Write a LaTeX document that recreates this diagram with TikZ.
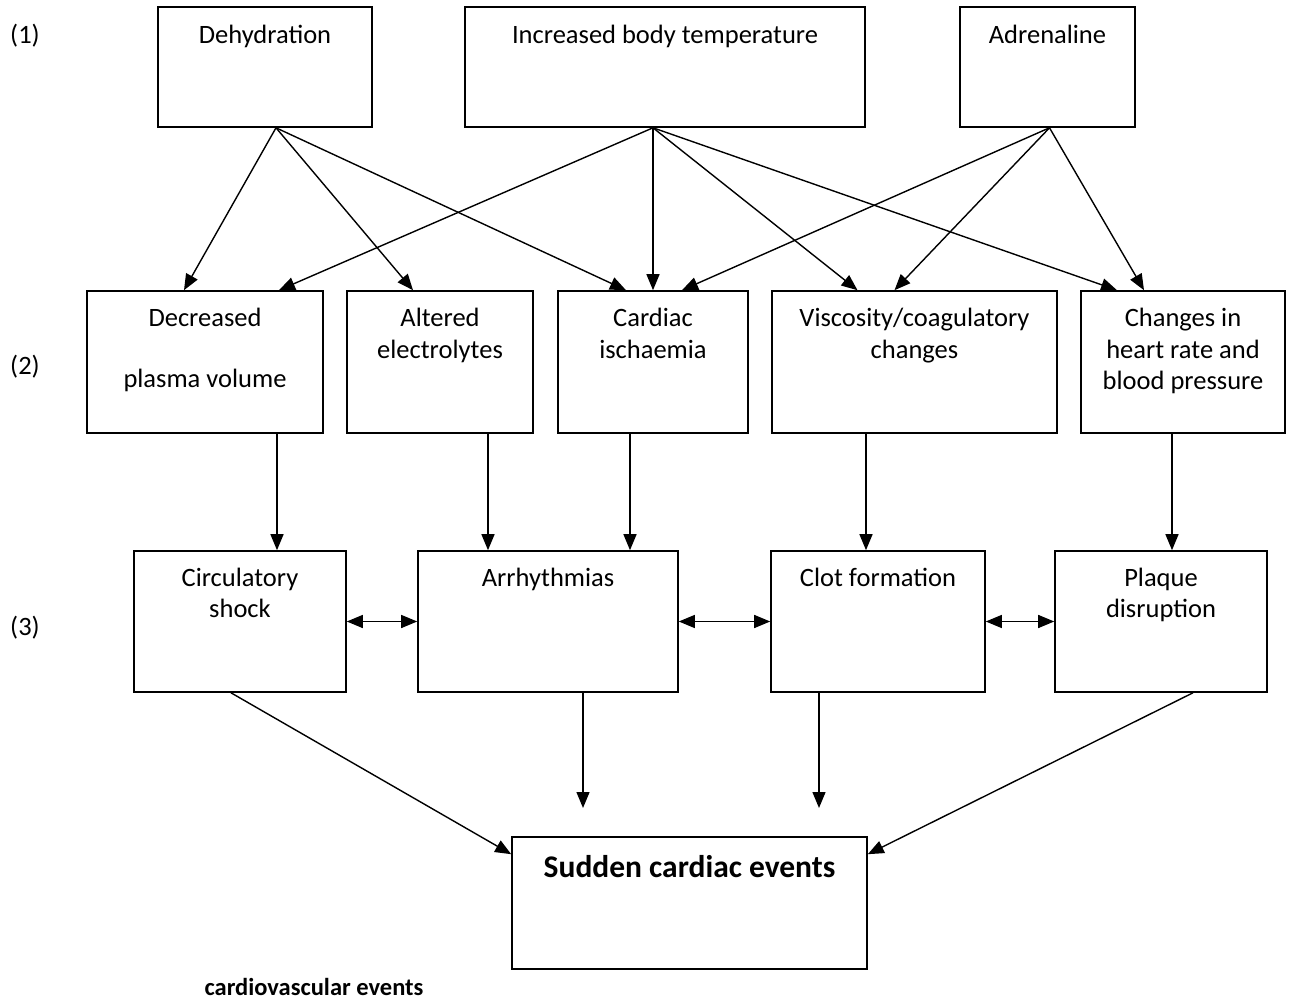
\documentclass[tikz,border=0pt]{standalone}
\usepackage{fontspec}
\setmainfont{Carlito}
\usetikzlibrary{arrows.meta}
% centred lines whose baseline is that of the first line
\newcommand\boxlines[1]{\begin{tabular}[t]{@{}c@{}}#1\end{tabular}}
\begin{document}
\begin{tikzpicture}[x=1pt,y=-1pt,
  box/.style={draw, line width=1.6pt, inner sep=0pt, rectangle},
  txt/.style={anchor=base, inner sep=0pt, font=\fontsize{26.5}{31.5}\selectfont},
  arr/.style={line width=1.4pt, -{Triangle[length=16pt,width=13pt]}},
  twoway/.style={line width=1.4pt, {Triangle[length=16pt,width=13pt]}-{Triangle[length=16pt,width=13pt]}}]
\useasboundingbox (0,0) rectangle (1294,1000);

% level labels
\node[txt] (lab1) at (25,44) {(1)};
\node[txt] (lab2) at (25,375) {(2)};
\node[txt] (lab3) at (25,635) {(3)};

% level 1
\node[box, minimum width=214pt, minimum height=120pt] (dehyd) at (265,67) {};
\node[box, minimum width=400pt, minimum height=120pt] (ibt) at (665,67) {};
\node[box, minimum width=175pt, minimum height=120pt] (adren) at (1047.5,67) {};
\node[txt] (dehydT) at (265,44) {Dehydration};
\node[txt] (ibtT) at (665,44) {Increased body temperature};
\node[txt] (adrenT) at (1047.5,44) {Adrenaline};

% level 2
\node[box, minimum width=236pt, minimum height=142pt] (decr) at (205,362) {};
\node[box, minimum width=186pt, minimum height=142pt] (elec) at (440,362) {};
\node[box, minimum width=190pt, minimum height=142pt] (isch) at (653,362) {};
\node[box, minimum width=285pt, minimum height=142pt] (visc) at (914.5,362) {};
\node[box, minimum width=204pt, minimum height=142pt] (hrbp) at (1183,362) {};
\node[txt] (decrT) at (205,327) {\boxlines{Decreased\\[29.5pt] plasma volume}};
\node[txt] (elecT) at (440,327) {\boxlines{Altered\\ electrolytes}};
\node[txt] (ischT) at (653,327) {\boxlines{Cardiac\\ ischaemia}};
\node[txt] (viscT) at (914.5,327) {\boxlines{Viscosity/coagulatory\\ changes}};
\node[txt] (hrbpT) at (1183,327) {\boxlines{Changes in\\ heart rate and\\ blood pressure}};

% level 3
\node[box, minimum width=212pt, minimum height=141pt] (circ) at (240,621.5) {};
\node[box, minimum width=260pt, minimum height=141pt] (arrh) at (548,621.5) {};
\node[box, minimum width=214pt, minimum height=141pt] (clot) at (878,621.5) {};
\node[box, minimum width=212pt, minimum height=141pt] (plaq) at (1161,621.5) {};
\node[txt] (circT) at (240,586) {\boxlines{Circulatory\\ shock}};
\node[txt] (arrhT) at (548,586) {Arrhythmias};
\node[txt] (clotT) at (878,586) {Clot formation};
\node[txt] (plaqT) at (1161,586) {\boxlines{Plaque\\ disruption}};

% outcome
\node[box, minimum width=355pt, minimum height=132pt] (sudden) at (689.5,903) {};
\node[txt, font=\bfseries\fontsize{31.5}{36}\selectfont] (suddenT) at (689.5,877) {Sudden cardiac events};
\node[txt, font=\bfseries\fontsize{24.5}{28}\selectfont] (cve) at (314,995) {cardiovascular events};

% level 1 -> level 2
\draw[arr] ([xshift=11]dehyd.south) -- ([xshift=-21]decr.north);
\draw[arr] ([xshift=11]dehyd.south) -- ([xshift=-27]elec.north);
\draw[arr] ([xshift=11]dehyd.south) -- ([xshift=-27]isch.north);
\draw[arr] ([xshift=-12]ibt.south) -- ([xshift=74]decr.north);
\draw[arr] ([xshift=-12]ibt.south) -- (isch.north);
\draw[arr] ([xshift=-12]ibt.south) -- ([xshift=-57]visc.north);
\draw[arr] ([xshift=-12]ibt.south) -- ([xshift=-66]hrbp.north);
\draw[arr] ([xshift=2]adren.south) -- ([xshift=29]isch.north);
\draw[arr] ([xshift=2]adren.south) -- ([xshift=-20]visc.north);
\draw[arr] ([xshift=2]adren.south) -- ([xshift=-39]hrbp.north);

% level 2 -> level 3
\draw[arr] (decr.south -| 277,0) -- (circ.north -| 277,0);
\draw[arr] (elec.south -| 488,0) -- (arrh.north -| 488,0);
\draw[arr] (isch.south -| 630,0) -- (arrh.north -| 630,0);
\draw[arr] (visc.south -| 866,0) -- (clot.north -| 866,0);
\draw[arr] (hrbp.south -| 1172,0) -- (plaq.north -| 1172,0);

% interactions within level 3
\draw[twoway] (circ.east) -- (arrh.west);
\draw[twoway] (arrh.east) -- (clot.west);
\draw[twoway] (clot.east) -- (plaq.west);

% level 3 -> outcome
\coordinate (arrhEnd) at (583,808);
\coordinate (clotEnd) at (819,808);
\draw[arr] (circ.south -| 231,0) -- ([yshift=-18]sudden.north west);
\draw[arr] (arrh.south -| 583,0) -- (arrhEnd);
\draw[arr] (clot.south -| 819,0) -- (clotEnd);
\draw[arr] (plaq.south -| 1193,0) -- ([yshift=-18]sudden.north east);
\end{tikzpicture}
\end{document}
